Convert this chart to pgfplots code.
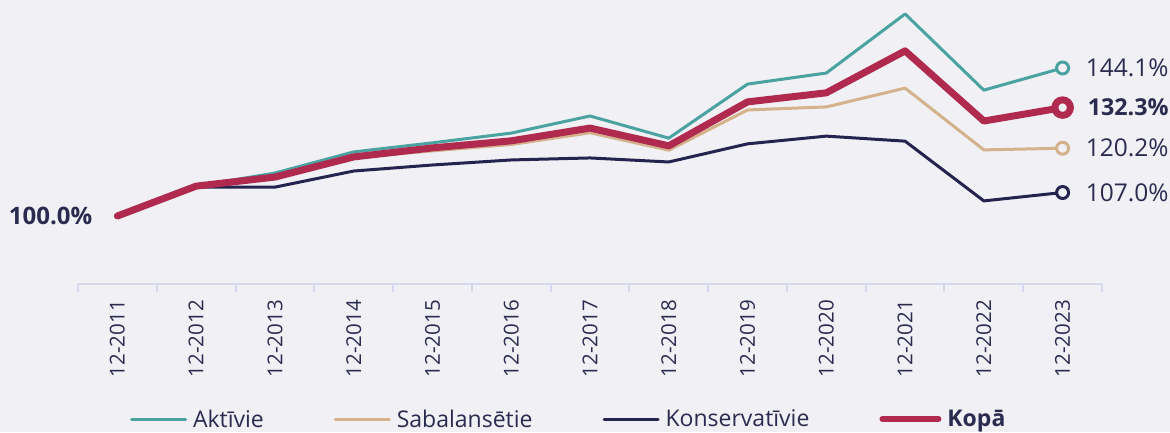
\documentclass[border=0pt]{standalone}
\usepackage{fontspec}
\setmainfont{Open Sans}
\usepackage{pgfplots}
\pgfplotsset{compat=1.18}
\definecolor{bg}{HTML}{F0F0F5}
\definecolor{teal1}{HTML}{4AA3A0}
\definecolor{tan1}{HTML}{D4B28C}
\definecolor{navy1}{HTML}{25244F}
\definecolor{crim}{HTML}{B0294E}
\definecolor{txt}{HTML}{2B2B50}
\definecolor{axl}{HTML}{D5D7EA}
\begin{document}
\begin{tikzpicture}
\useasboundingbox (0,0) rectangle (1170pt,432pt);
\fill[bg] (0,0) rectangle (1170pt,432pt);
\begin{axis}[
  at={(78pt,148pt)}, anchor=south west,
  scale only axis, width=1024pt, height=284pt,
  xmin=-0.5, xmax=12.5, ymin=79.74, ymax=164.36,
  clip=false,
  axis x line*=bottom, axis y line=none,
  axis line style={axl, line width=2pt, -},
  xtick={0,...,12},
  xticklabels={12-2011,12-2012,12-2013,12-2014,12-2015,12-2016,12-2017,12-2018,12-2019,12-2020,12-2021,12-2022,12-2023},
  major tick length=0pt,
  minor xtick={-0.5,0.5,...,12.5},
  minor tick length=8pt,
  tick align=outside,
  minor tick style={axl, line width=2pt},
  xticklabel style={rotate=90, anchor=east, inner sep=0pt, text=txt, font=\fontsize{20.5}{24}\selectfont},
  xticklabel shift=16pt,
  legend columns=4,
  legend style={at={(axis description cs:0.0508,-0.4754)}, anchor=west, draw=none, fill=none,
    inner sep=0pt, outer sep=0pt,
    font=\fontsize{23}{26}\selectfont, text=txt,
    nodes={inner sep=0pt},
    /tikz/every odd column/.append style={column sep=6pt},
    /tikz/every even column/.append style={column sep=70pt}},
  legend image code/.code={\draw[#1, line width=3pt, line cap=round] (0pt,0pt) -- (54pt,0pt);},
  every axis plot/.append style={line join=round, line cap=round},
]
\addplot[teal1, line width=3pt, mark=none] coordinates {
(0,100) (1,108.9) (2,112.8) (3,119.1) (4,121.8) (5,124.7) (6,129.8) (7,123.2) (8,139.3) (9,142.6) (10,160.2) (11,137.5) (12,144.1)};
\addlegendentry{Aktīvie}
\addplot[tan1, line width=3pt, mark=none] coordinates {
(0,100) (1,108.9) (2,111.6) (3,117.4) (4,119.4) (5,121.3) (6,124.8) (7,119.6) (8,131.6) (9,132.5) (10,138.1) (11,119.7) (12,120.2)};
\addlegendentry{Sabalansētie}
\addplot[navy1, line width=3pt, mark=none] coordinates {
(0,100) (1,108.6) (2,108.6) (3,113.4) (4,115.2) (5,116.7) (6,117.3) (7,116.1) (8,121.5) (9,123.8) (10,122.3) (11,104.5) (12,107.0)};
\addlegendentry{Konservatīvie}
\addplot[crim, line width=7pt, mark=none, legend image code/.code={\draw[crim, line width=6pt, line cap=round] (0pt,0pt) -- (56pt,0pt);}] coordinates {
(0,100) (1,108.9) (2,111.6) (3,117.6) (4,120.3) (5,122.4) (6,126.2) (7,120.9) (8,134.0) (9,136.7) (10,149.2) (11,128.3) (12,132.3)};
\addlegendentry{\textbf{Kopā}}
\addplot[forget plot, only marks, mark=*, mark size=6pt, mark options={draw=teal1, fill=bg, line width=3pt}] coordinates {(12,144.1)};
\addplot[forget plot, only marks, mark=*, mark size=6pt, mark options={draw=tan1, fill=bg, line width=3pt}] coordinates {(12,120.2)};
\addplot[forget plot, only marks, mark=*, mark size=6pt, mark options={draw=navy1, fill=bg, line width=3pt}] coordinates {(12,107.0)};
\addplot[forget plot, only marks, mark=*, mark size=7.75pt, mark options={draw=crim, fill=bg, line width=7pt}] coordinates {(12,132.3)};
\node[anchor=west, inner sep=0pt, text=txt, font=\fontsize{24.5}{28}\selectfont] at (axis cs:12,144.1) [xshift=23pt] {144.1\%};
\node[anchor=west, inner sep=0pt, text=txt, font=\bfseries\fontsize{23.3}{28}\selectfont] at (axis cs:12,132.3) [xshift=25pt] {132.3\%};
\node[anchor=west, inner sep=0pt, text=txt, font=\fontsize{24.5}{28}\selectfont] at (axis cs:12,120.2) [xshift=23pt] {120.2\%};
\node[anchor=west, inner sep=0pt, text=txt, font=\fontsize{24.5}{28}\selectfont] at (axis cs:12,107.0) [xshift=23pt] {107.0\%};
\node[anchor=east, inner sep=0pt, text=txt, font=\bfseries\fontsize{24}{28}\selectfont] at (axis cs:0,100) [xshift=-25pt] {100.0\%};
\end{axis}
\end{tikzpicture}
\end{document}
